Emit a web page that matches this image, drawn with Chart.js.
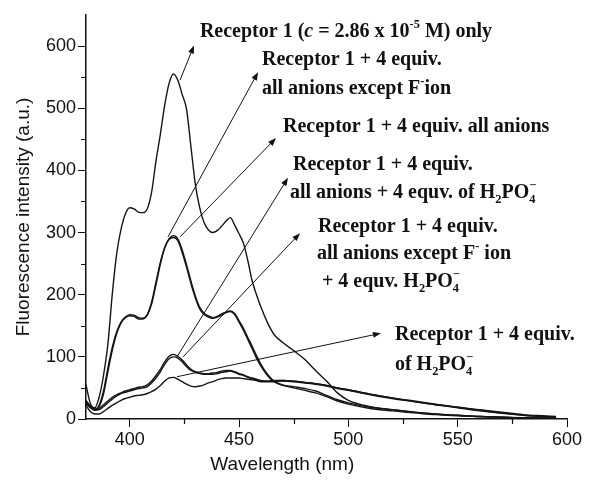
<!DOCTYPE html>
<html>
<head>
<meta charset="utf-8">
<script src="https://cdn.jsdelivr.net/npm/chart.js@4.4.1/dist/chart.umd.min.js"></script>
<style>
  html, body { margin: 0; padding: 0; background: #fff; }
  #wrap { width: 606px; height: 489px; }
</style>
</head>
<body>
<div id="wrap"><canvas id="spectra"></canvas></div>
<script>
// wavelength grid (nm), shared by every spectrum
const wavelengths = [380, 382, 384, 386, 388, 390, 392, 394, 396, 398,
    400, 402, 404, 406, 408, 410, 412, 414, 416, 418,
    420, 422, 424, 426, 428, 430, 432, 434, 436, 438,
    440, 442, 444, 446, 448, 450, 452, 454, 456, 458,
    460, 463, 466, 470, 475, 480, 485, 490, 495, 500,
    510, 520, 530, 540, 550, 560, 570, 580, 590, 595];

// receptor 1 only
const receptorOnly = [55, 25, 18, 35, 70, 120, 200, 265, 305, 330,
    340, 338, 333, 332, 338, 365, 415, 458, 505, 540,
    555, 545, 522, 498, 438, 378, 340, 316, 304, 300,
    303, 310, 318, 324, 312, 298, 283, 255, 222, 200,
    180, 155, 136, 123, 110, 96, 78, 61, 42, 30,
    20, 15, 11, 8, 6, 4, 3, 2, 2, 2];

// + all anions except F-
const exceptF = [28, 20, 15, 22, 45, 82, 115, 140, 156, 164,
    168, 167, 163, 162, 168, 188, 220, 252, 276, 290,
    295, 290, 272, 248, 222, 198, 180, 170, 166, 163,
    165, 169, 172, 174, 170, 158, 146, 131, 117, 102,
    88, 72, 61, 55, 52, 49, 45, 38, 31, 26,
    19, 15, 11, 8, 6, 4, 3, 2, 2, 1];

// + all anions
const allAnions = [30, 21, 16, 20, 40, 76, 110, 137, 154, 163,
    166, 165, 161, 161, 167, 185, 216, 249, 275, 289,
    292, 287, 268, 244, 218, 195, 177, 168, 164, 162,
    164, 167, 171, 173, 168, 156, 143, 128, 113, 98,
    85, 70, 60, 54, 50, 46, 42, 36, 29, 24,
    17, 13, 10, 7, 5, 4, 3, 2, 1, 1];

// + all anions + H2PO4-
const allAnionsH2PO4 = [25, 18, 14, 15, 20, 26, 32, 37, 41, 43,
    45, 47, 49, 50, 52, 58, 66, 76, 88, 97,
    100, 98, 92, 84, 78, 75, 73, 72, 72, 72,
    73, 75, 76, 77, 75, 72, 70, 67, 65, 62,
    60, 60, 60, 61, 60, 58, 56, 53, 49, 46,
    39, 33, 28, 23, 19, 14, 10, 6, 4, 3];

// + all anions except F- + H2PO4-
const exceptFH2PO4 = [27, 19, 15, 17, 23, 29, 35, 39, 42, 45,
    47, 49, 51, 52, 55, 61, 70, 80, 92, 101,
    104, 101, 95, 87, 80, 76, 74, 73, 73, 74,
    75, 77, 78, 78, 76, 73, 71, 68, 66, 64,
    62, 61, 61, 62, 61, 59, 57, 54, 50, 47,
    40, 34, 29, 24, 19, 15, 11, 7, 5, 4];

// + H2PO4- only
const h2po4Only = [22, 12, 8, 8, 12, 17, 22, 26, 30, 33,
    35, 37, 38, 39, 41, 44, 48, 54, 61, 66,
    67, 64, 60, 56, 53, 52, 53, 55, 58, 60,
    63, 65, 66, 66, 66, 66, 65, 64, 63, 62,
    61, 61, 62, 62, 61, 59, 57, 54, 50, 47,
    40, 34, 28, 23, 18, 13, 9, 6, 4, 3];

const xTicks = [400, 425, 450, 475, 500, 525, 550, 575, 600];
const yTicks = [0, 50, 100, 150, 200, 250, 300, 350, 400, 450, 500, 550, 600];

const series = [receptorOnly, exceptF, allAnions, allAnionsH2PO4, exceptFH2PO4, h2po4Only];

// annotation texts, placed in data coordinates (wavelength, intensity)
const notes = [
    { lines: [{ at: [432.1, 622.6], segs: ['Receptor 1 (', { it: 'c' }, ' = 2.86 x 10', { sup: '-5' }, ' M) only'] }],
      tail: [423.0, 545], head: [429.4, 601] },
    { lines: [{ at: [460.5, 577.6], segs: ['Receptor 1 + 4 equiv.'] },
              { at: [460.5, 530.9], segs: ['all anions except F', { sup: '-' }, 'ion'] }],
      tail: [417.5, 293], head: [458.7, 558] },
    { lines: [{ at: [470.1, 469.8], segs: ['Receptor 1 + 4 equiv. all anions'] }],
      tail: [423.0, 293], head: [466.9, 452] },
    { lines: [{ at: [474.7, 408.7], segs: ['Receptor 1 + 4 equiv.'] },
              { at: [473.3, 363.6], segs: ['all anions + 4 equv. of H', { sub: '2' }, 'PO', { sub: '4' }, { sup: '\u2212', stack: true }] }],
      tail: [421.6, 100], head: [472.4, 388] },
    { lines: [{ at: [486.1, 308.9], segs: ['Receptor 1 + 4 equiv.'] },
              { at: [485.6, 265.5], segs: ['all anions except F', { sup: '-' }, ' ion'] },
              { at: [487.9, 220.4], segs: ['+ 4 equv. H', { sub: '2' }, 'PO', { sub: '4' }, { sup: '\u2212', stack: true }] }],
      tail: [424.4, 100], head: [477.9, 299] },
    { lines: [{ at: [521.3, 135.2], segs: ['Receptor 1 + 4 equiv.'] },
              { at: [521.3, 86.9], segs: ['of H', { sub: '2' }, 'PO', { sub: '4' }, { sup: '\u2212', stack: true }] }],
      tail: [421.6, 68], head: [514.9, 138] }
];

const NOTE_SIZE = 20;

function drawRich(ctx, segs, x, y) {
    let prevX = x;
    segs.forEach(s => {
        let text = s, size = NOTE_SIZE, dy = 0, italic = false;
        if (typeof s === 'object') {
            if (s.it) { text = s.it; italic = true; }
            if (s.sub) { text = s.sub; size = NOTE_SIZE * 0.62; dy = NOTE_SIZE * 0.32; }
            if (s.sup) { text = s.sup; size = NOTE_SIZE * 0.62; dy = -NOTE_SIZE * 0.36; }
        }
        ctx.font = (italic ? 'italic ' : '') + 'bold ' + size + 'px "Liberation Serif"';
        const sx = (s.stack) ? prevX : x;
        ctx.fillText(text, sx, y + dy);
        prevX = sx;
        x = Math.max(x, sx + ctx.measureText(text).width);
    });
}

function drawArrow(ctx, x1, y1, x2, y2) {
    const ang = Math.atan2(y2 - y1, x2 - x1);
    const len = 8, half = 3;
    ctx.beginPath();
    ctx.moveTo(x1, y1);
    ctx.lineTo(x2 - Math.cos(ang) * len * 0.8, y2 - Math.sin(ang) * len * 0.8);
    ctx.stroke();
    ctx.beginPath();
    ctx.moveTo(x2, y2);
    ctx.lineTo(x2 - Math.cos(ang) * len - Math.sin(ang) * half, y2 - Math.sin(ang) * len + Math.cos(ang) * half);
    ctx.lineTo(x2 - Math.cos(ang) * len + Math.sin(ang) * half, y2 - Math.sin(ang) * len - Math.cos(ang) * half);
    ctx.closePath();
    ctx.fill();
}

const MINOR_LEN = 5;

const notesPlugin = {
    id: 'notes',
    afterDatasetsDraw(chart) {
        const { ctx, scales: { x, y }, chartArea } = chart;
        ctx.save();
        ctx.fillStyle = '#111';
        ctx.strokeStyle = '#111';
        ctx.lineWidth = 1;
        notes.forEach(n => {
            drawArrow(ctx, x.getPixelForValue(n.tail[0]), y.getPixelForValue(n.tail[1]),
                x.getPixelForValue(n.head[0]), y.getPixelForValue(n.head[1]));
            ctx.textAlign = 'left';
            ctx.textBaseline = 'middle';
            n.lines.forEach(l => drawRich(ctx, l.segs, x.getPixelForValue(l.at[0]), y.getPixelForValue(l.at[1])));
        });
        // shorter minor ticks
        ctx.lineWidth = 1.2;
        ctx.beginPath();
        xTicks.filter(v => v % 50 !== 0).forEach(v => {
            const px = Math.round(x.getPixelForValue(v)) + 0.5;
            ctx.moveTo(px, chartArea.bottom);
            ctx.lineTo(px, chartArea.bottom + MINOR_LEN);
        });
        yTicks.filter(v => v % 100 !== 0).forEach(v => {
            const py = Math.round(y.getPixelForValue(v)) + 0.5;
            ctx.moveTo(chartArea.left, py);
            ctx.lineTo(chartArea.left - MINOR_LEN, py);
        });
        ctx.stroke();
        // x axis title
        ctx.font = '19px "Liberation Sans"';
        ctx.textAlign = 'center';
        ctx.textBaseline = 'middle';
        ctx.fillText('Wavelength (nm)', chartArea.left + (chartArea.right - chartArea.left) * 0.408, 465);
        ctx.restore();
    }
};

const ctxEl = document.querySelector('#spectra');

new Chart(ctxEl, {
    type: 'line',
    data: {
        datasets: series.map(s => ({
            data: s.map((v, i) => ({ x: wavelengths[i], y: v })),
            borderColor: '#151515',
            borderWidth: 1.4,
            pointRadius: 0,
            fill: false,
            tension: 0.4,
            cubicInterpolationMode: 'monotone'
        }))
    },
    options: {
        responsive: true,
        maintainAspectRatio: false,
        animation: false,
        layout: { padding: { top: 15, right: 39, left: 0, bottom: 0 } },
        plugins: { legend: { display: false }, tooltip: { enabled: false } },
        scales: {
            x: {
                type: 'linear',
                min: 380,
                max: 600,
                afterBuildTicks: scale => { scale.ticks = xTicks.map(v => ({ value: v })); },
                afterFit: scale => {
                    scale.height = 70;
                    scale.paddingLeft = 0; scale.paddingRight = 0;
                },
                ticks: {
                    autoSkip: false,
                    maxRotation: 0,
                    padding: 2,
                    color: '#111',
                    font: { family: 'Liberation Sans', size: 18 },
                    callback: v => (v % 50 === 0 ? v : '')
                },
                grid: {
                    drawOnChartArea: false, drawTicks: true, tickLength: 8, color: '#111',
                    tickColor: c => (c.tick && c.tick.value % 50 === 0 ? '#111' : 'rgba(0,0,0,0)')
                },
                border: { display: true, color: '#111', width: 1.5 }
            },
            y: {
                min: 0,
                max: 650,
                afterBuildTicks: scale => { scale.ticks = yTicks.map(v => ({ value: v })); },
                afterFit: scale => {
                    scale.width = 86;
                    scale.paddingTop = 0; scale.paddingBottom = 0;
                },
                ticks: {
                    autoSkip: false,
                    padding: 2,
                    color: '#111',
                    font: { family: 'Liberation Sans', size: 18 },
                    callback: v => (v % 100 === 0 ? v : '')
                },
                grid: {
                    drawOnChartArea: false, drawTicks: true, tickLength: 8, color: '#111',
                    tickColor: c => (c.tick && c.tick.value % 100 === 0 ? '#111' : 'rgba(0,0,0,0)')
                },
                border: { display: true, color: '#111', width: 1.5 },
                title: {
                    display: true,
                    text: 'Fluorescence intensity (a.u.)',
                    color: '#111',
                    font: { family: 'Liberation Sans', size: 19, weight: 'normal' },
                    padding: { top: 12, bottom: 0 }
                }
            }
        }
    },
    plugins: [notesPlugin]
});
</script>
</body>
</html>
